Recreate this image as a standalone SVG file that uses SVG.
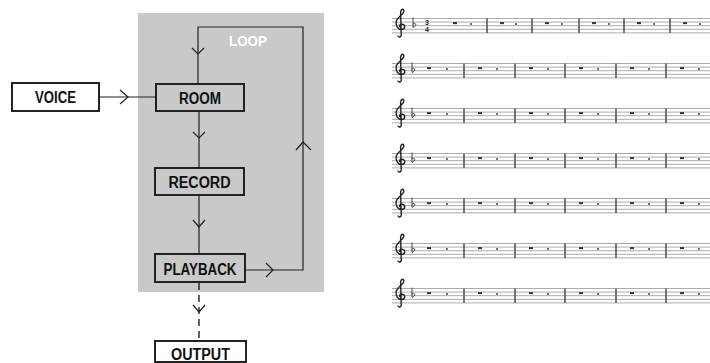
<svg xmlns="http://www.w3.org/2000/svg" xmlns:xlink="http://www.w3.org/1999/xlink" width="710" height="363" viewBox="0 0 710 363">
<style>
.box{fill:#ffffff;stroke:#1a1a1a;stroke-width:1.9}
.gbox{fill:#c9c9c9;stroke:#1a1a1a;stroke-width:1.9}
.lbl{font-family:"Liberation Sans",Arial,sans-serif;font-weight:bold;font-size:16px;fill:#111;text-anchor:middle}
.loop{font-family:"Liberation Sans",Arial,sans-serif;font-weight:bold;font-size:14.5px;fill:#ffffff;text-anchor:middle}
.ln{fill:none;stroke:#222;stroke-width:1.2}
.dash{fill:none;stroke:#222;stroke-width:1.4;stroke-dasharray:7 5}
.chev{fill:none;stroke:#222;stroke-width:1.2}
.staff{stroke:#a0a0a0;stroke-width:0.9}
.bar{stroke:#555;stroke-width:1.6}
.clef{fill:none;stroke:#222;stroke-width:1.4;stroke-linecap:round}
.flat{fill:none;stroke:#333;stroke-width:0.9}
.rest{fill:#333}
.ts{font-family:"Liberation Sans",Arial,sans-serif;font-weight:bold;font-size:7px;fill:#222;text-anchor:middle}
</style>
<defs>
<g id="lines">
<line class="staff" x1="392" y1="0" x2="710" y2="0"/>
<line class="staff" x1="392" y1="3.6" x2="710" y2="3.6"/>
<line class="staff" x1="392" y1="7.2" x2="710" y2="7.2"/>
<line class="staff" x1="392" y1="10.8" x2="710" y2="10.8"/>
<line class="staff" x1="392" y1="14.4" x2="710" y2="14.4"/>
</g>
<path id="clef" class="clef" d="M -2,17.5 c 1,1.8 4,0.8 3.2,-1.8 L 0.6,-6.5 c 0.5,-3 3.2,-4 3.2,-0.8 c 0,3 -6.5,6 -7.5,10 c -1,4.5 1.5,8.3 5.5,8.3 c 3,0 4.3,-4.2 1,-5.2 c -3,-1 -4.3,2 -2,3.2"/>
<path id="flat" class="flat" d="M 0,-1 V 9 c 2,-1 4,-3 2,-4 c -1,-0.5 -2,0 -2,1"/>
<g id="rest">
<rect class="rest" x="-2" y="3.6" width="4" height="2"/>
</g>
<circle id="dot" class="rest" cx="0" cy="5.5" r="0.9"/>
<line id="bl" class="bar" x1="0" y1="0" x2="0" y2="14.4"/>
<g id="staffB">
<use xlink:href="#lines"/>
<use xlink:href="#clef" x="400"/>
<use xlink:href="#flat" x="412"/>
<use xlink:href="#rest" x="429"/><use xlink:href="#dot" x="447"/>
<use xlink:href="#bl" x="464"/>
<use xlink:href="#rest" x="480"/><use xlink:href="#dot" x="497"/>
<use xlink:href="#bl" x="515"/>
<use xlink:href="#rest" x="531"/><use xlink:href="#dot" x="548"/>
<use xlink:href="#bl" x="565"/>
<use xlink:href="#rest" x="581"/><use xlink:href="#dot" x="598"/>
<use xlink:href="#bl" x="616"/>
<use xlink:href="#rest" x="632"/><use xlink:href="#dot" x="649"/>
<use xlink:href="#bl" x="666"/>
<use xlink:href="#rest" x="682"/><use xlink:href="#dot" x="699"/>
</g>
</defs>

<rect id="loop-area" x="138" y="13" width="186" height="279" fill="#c9c9c9"/>

<g id="connectors">
<polyline class="ln" points="99,97 156,97"/>
<polyline class="chev" points="120,90 128,97 120,104"/>
<polyline class="ln" points="199,111 199,168"/>
<polyline class="chev" points="193,132 199,138 205,132"/>
<polyline class="ln" points="199,195 199,254"/>
<polyline class="chev" points="193,220 199,227 205,220"/>
<polyline class="ln" points="245,270 303,270 303,27 198,27 198,84"/>
<polyline class="chev" points="266,263 273,270 266,277"/>
<polyline class="chev" points="296,150 303,142 311,150"/>
<polyline class="chev" points="192,48 198,54 204,48"/>
<polyline class="dash" points="199,283 199,341"/>
<polyline class="chev" points="193,305 199,312 205,305"/>
</g>

<g id="loop-label"><text class="loop" x="248" y="46" textLength="38" lengthAdjust="spacingAndGlyphs">LOOP</text></g>

<g id="voice"><rect class="box" x="12" y="83" width="87" height="28"/><text class="lbl" x="55.5" y="103" textLength="41" lengthAdjust="spacingAndGlyphs">VOICE</text></g>
<g id="room"><rect class="gbox" x="156" y="84" width="88" height="27"/><text class="lbl" x="200" y="103.5" textLength="42" lengthAdjust="spacingAndGlyphs">ROOM</text></g>
<g id="record"><rect class="gbox" x="155" y="168" width="89" height="27"/><text class="lbl" x="199.5" y="188" textLength="62" lengthAdjust="spacingAndGlyphs">RECORD</text></g>
<g id="playback"><rect class="gbox" x="155" y="254" width="90" height="28"/><text class="lbl" x="200" y="275" textLength="73" lengthAdjust="spacingAndGlyphs">PLAYBACK</text></g>
<g id="output"><rect class="box" x="155" y="341" width="91" height="21"/><text class="lbl" x="200.5" y="360" textLength="59" lengthAdjust="spacingAndGlyphs">OUTPUT</text></g>

<g id="score">
<g transform="translate(0,18.5)">
<use xlink:href="#lines"/>
<use xlink:href="#clef" x="400"/>
<use xlink:href="#flat" x="413"/>
<text class="ts" x="427" y="6">3</text>
<text class="ts" x="427" y="13.5">4</text>
<use xlink:href="#rest" x="455"/><use xlink:href="#dot" x="471"/>
<use xlink:href="#bl" x="487"/>
<use xlink:href="#rest" x="502"/><use xlink:href="#dot" x="516"/>
<use xlink:href="#bl" x="532"/>
<use xlink:href="#rest" x="547"/><use xlink:href="#dot" x="562"/>
<use xlink:href="#bl" x="579"/>
<use xlink:href="#rest" x="594"/><use xlink:href="#dot" x="609"/>
<use xlink:href="#bl" x="624"/>
<use xlink:href="#rest" x="639"/><use xlink:href="#dot" x="654"/>
<use xlink:href="#bl" x="670"/>
<use xlink:href="#rest" x="685"/><use xlink:href="#dot" x="700"/>
</g>
<use xlink:href="#staffB" y="63.5"/>
<use xlink:href="#staffB" y="108.5"/>
<use xlink:href="#staffB" y="153.5"/>
<use xlink:href="#staffB" y="198.5"/>
<use xlink:href="#staffB" y="243.5"/>
<use xlink:href="#staffB" y="288.5"/>
</g>
</svg>
